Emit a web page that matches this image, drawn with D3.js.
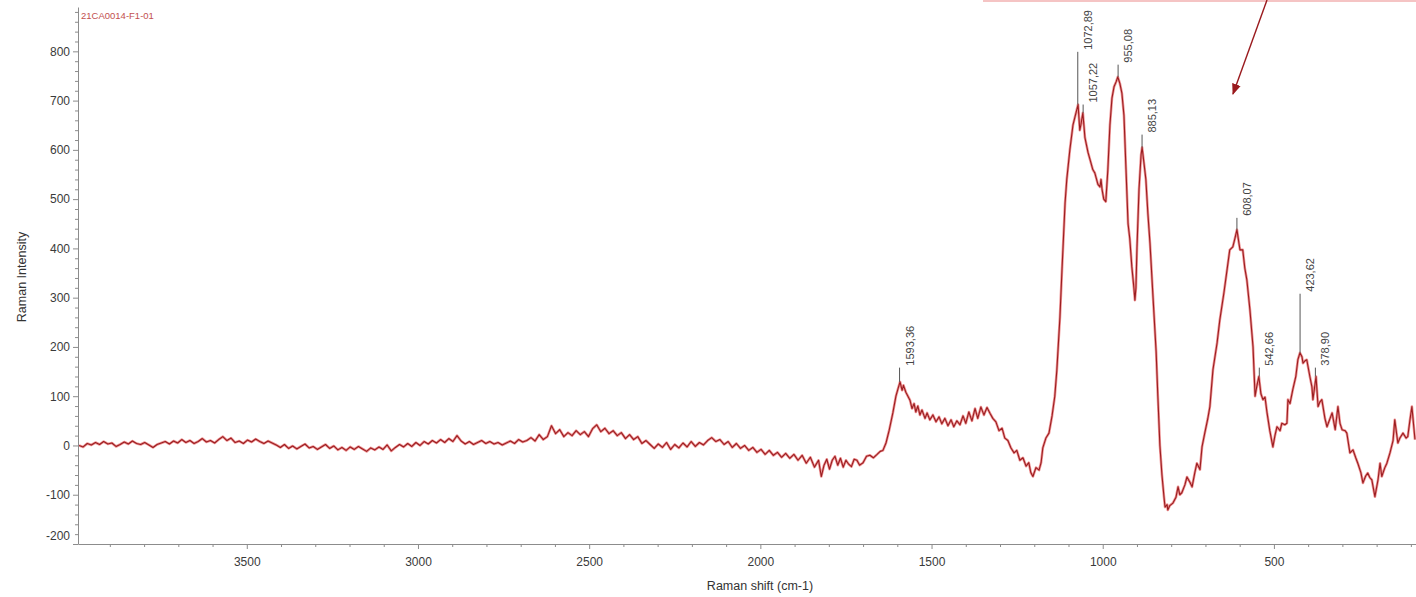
<!DOCTYPE html>
<html>
<head>
<meta charset="utf-8">
<script src="https://d3js.org/d3.v7.min.js"></script>
<style>
    body { margin: 0; background: #fff; }
    text { font-family: 'Liberation Sans', Arial, sans-serif; }
    .axis path, .axis line { stroke: #8c8c8c; }
    .axis text { fill: #3a3a3a; font-size: 12px; }
</style>
</head>
<body>
<svg id="chart" width="1416" height="597"></svg>
<script>
// spectrum: [Raman shift (cm-1), intensity]
var spectrum = [
    [3990,0],[3978,-3],[3966,4],[3954,1],[3942,6],[3930,2],[3918,8],[3906,3],[3894,5],[3882,-2],
    [3870,2],[3858,7],[3846,3],[3834,9],[3822,4],[3810,2],[3798,6],[3786,1],[3774,-4],[3762,2],
    [3750,5],[3738,8],[3726,3],[3714,9],[3702,5],[3690,12],[3678,6],[3666,10],[3654,4],[3642,8],
    [3630,14],[3618,7],[3606,10],[3594,5],[3582,12],[3570,18],[3558,10],[3546,15],[3534,6],[3522,9],
    [3510,4],[3498,11],[3486,7],[3474,13],[3462,8],[3450,4],[3438,9],[3426,5],[3414,1],[3402,-4],
    [3390,2],[3378,-6],[3366,-1],[3354,-7],[3342,-2],[3330,3],[3318,-5],[3306,-2],[3294,-8],[3282,-3],
    [3270,2],[3258,-6],[3246,-1],[3234,-9],[3222,-4],[3210,-10],[3198,-3],[3186,-8],[3174,-2],[3162,-7],
    [3150,-12],[3138,-5],[3126,-9],[3114,-3],[3102,-8],[3090,1],[3078,-11],[3066,-4],[3054,2],[3042,-3],
    [3030,4],[3018,-2],[3006,6],[2994,0],[2982,8],[2970,3],[2958,10],[2946,5],[2934,12],[2922,6],
    [2910,14],[2898,8],[2886,20],[2874,9],[2862,3],[2850,8],[2838,2],[2826,6],[2814,10],[2802,4],
    [2790,8],[2778,3],[2766,6],[2754,1],[2742,5],[2730,9],[2718,4],[2706,12],[2694,7],[2682,10],
    [2670,16],[2658,9],[2646,22],[2634,12],[2622,18],[2610,40],[2598,24],[2586,32],[2574,18],[2562,26],
    [2550,20],[2538,30],[2526,22],[2514,28],[2502,18],[2490,34],[2478,42],[2466,28],[2454,35],[2442,24],
    [2430,30],[2418,20],[2406,26],[2394,14],[2382,22],[2370,12],[2358,18],[2346,4],[2334,10],[2322,2],
    [2310,-6],[2298,3],[2286,-4],[2274,6],[2262,-8],[2250,2],[2238,-5],[2226,5],[2214,-3],[2202,8],
    [2190,-2],[2178,6],[2166,1],[2154,10],[2142,16],[2130,8],[2118,12],[2106,2],[2094,8],[2082,-4],
    [2070,4],[2058,-6],[2046,0],[2034,-10],[2022,-4],[2010,-14],[1998,-8],[1986,-18],[1974,-10],[1962,-20],
    [1950,-14],[1938,-24],[1926,-16],[1914,-26],[1902,-18],[1890,-30],[1878,-20],[1866,-36],[1854,-24],[1842,-44],
    [1830,-30],[1822,-63],[1814,-40],[1806,-28],[1798,-48],[1790,-30],[1782,-22],[1774,-40],[1766,-26],[1758,-44],
    [1750,-30],[1742,-38],[1734,-43],[1726,-28],[1718,-30],[1710,-40],[1700,-35],[1690,-22],[1680,-20],[1670,-25],
    [1659,-18],[1650,-12],[1642,-10],[1633,5],[1624,30],[1613,66],[1604,100],[1598,115],[1592,129],[1586,112],
    [1582,122],[1575,108],[1569,100],[1563,92],[1557,75],[1551,85],[1546,68],[1540,80],[1534,62],[1528,72],
    [1519,55],[1513,66],[1505,52],[1496,62],[1487,48],[1478,58],[1470,44],[1461,55],[1452,40],[1443,52],
    [1435,38],[1426,50],[1417,42],[1408,60],[1400,45],[1391,68],[1382,50],[1373,75],[1365,55],[1356,78],
    [1347,62],[1338,77],[1329,65],[1321,55],[1312,48],[1303,30],[1294,35],[1286,15],[1277,10],[1268,-5],
    [1259,-15],[1251,-10],[1242,-30],[1233,-25],[1224,-42],[1216,-35],[1210,-55],[1204,-63],[1195,-45],[1186,-50],
    [1180,-35],[1175,-5],[1166,15],[1157,25],[1148,60],[1140,100],[1134,153],[1125,260],[1119,356],[1110,492],
    [1105,540],[1096,600],[1087,650],[1081,667],[1072,692],[1067,640],[1064,650],[1058,675],[1052,625],[1043,595],
    [1037,580],[1029,560],[1023,553],[1014,530],[1008,525],[1005,540],[1002,520],[997,500],[991,495],[985,560],
    [979,650],[973,705],[967,728],[961,738],[956,748],[950,735],[944,715],[938,670],[932,560],[926,450],
    [921,420],[915,363],[909,320],[906,295],[903,320],[900,400],[894,520],[888,590],[885,605],[879,570],
    [874,540],[868,470],[862,411],[853,300],[844,190],[839,100],[833,0],[827,-60],[821,-105],[818,-125],
    [812,-120],[810,-131],[804,-122],[795,-117],[786,-105],[780,-84],[775,-100],[769,-96],[760,-80],[754,-64],
    [745,-75],[739,-84],[731,-55],[725,-36],[716,-49],[710,-3],[702,25],[693,55],[687,79],[678,154],
    [666,208],[658,255],[646,310],[637,356],[629,397],[620,403],[614,420],[608,438],[602,410],[599,397],
    [591,397],[585,360],[579,336],[570,275],[561,200],[555,100],[550,120],[544,140],[538,105],[532,93],
    [526,98],[520,66],[512,30],[503,-3],[497,20],[491,38],[482,30],[477,45],[468,42],[462,45],
    [459,93],[453,85],[445,113],[436,140],[430,174],[424,188],[418,180],[415,167],[409,172],[404,174],
    [395,140],[389,119],[386,93],[377,140],[371,79],[366,88],[360,93],[351,55],[345,38],[336,55],
    [330,66],[321,32],[313,79],[307,45],[301,32],[292,30],[287,25],[278,-15],[269,-9],[261,-25],
    [255,-36],[246,-55],[240,-76],[232,-62],[226,-56],[220,-65],[214,-70],[205,-104],[196,-70],[190,-36],
    [185,-63],[176,-45],[170,-36],[161,-15],[152,10],[147,52],[138,5],[132,15],[123,25],[114,15],
    [109,18],[103,50],[97,79],[88,12]
];

// peak annotations
var peakShifts = [1593.36, 1072.89, 1057.22, 955.08, 885.13, 608.07, 542.66, 423.62, 378.90];
var peakLabels = ["1593,36", "1072,89", "1057,22", "955,08", "885,13", "608,07", "542,66", "423,62", "378,90"];
var peakValues = [129, 692, 675, 748, 605, 438, 140, 188, 140];
var peakLabelLevels = [158, 799, 692, 773, 631, 462, 158, 308, 158];

var xTicks = [3500, 3000, 2500, 2000, 1500, 1000, 500];
var yTicks = [-200, -100, 0, 100, 200, 300, 400, 500, 600, 700, 800];
var sampleName = "21CA0014-F1-01";

var svg = d3.select('#chart');
var plotLeft = 78, plotRight = 1416, plotTop = 7, plotBottom = 544;

var x = d3.scaleLinear().domain([3993, 85]).range([plotLeft, plotRight]);
var y = d3.scaleLinear().domain([-200, 890]).range([plotBottom, plotTop]);

// minor ticks
var xMinor = d3.range(3900, 99, -100).filter(d => xTicks.indexOf(d) < 0);
var yMinor = d3.range(-200, 881, 20).filter(d => yTicks.indexOf(d) < 0);

svg.append("g").attr("class", "axis")
    .attr("transform", `translate(0,${plotBottom})`)
    .call(d3.axisBottom(x).tickValues(xMinor).tickSize(3).tickFormat(""))
    .call(g => g.select(".domain").remove());
svg.append("g").attr("class", "axis")
    .attr("transform", `translate(${plotLeft},0)`)
    .call(d3.axisLeft(y).tickValues(yMinor).tickSize(3).tickFormat(""))
    .call(g => g.select(".domain").remove());

svg.append("g").attr("class", "axis")
    .attr("transform", `translate(0,${plotBottom})`)
    .call(d3.axisBottom(x).tickValues(xTicks).tickFormat(d => String(d))
        .tickSize(5).tickSizeOuter(0).tickPadding(8));

var yAxis = svg.append("g").attr("class", "axis")
    .attr("transform", `translate(${plotLeft},0)`)
    .call(d3.axisLeft(y).tickValues(yTicks).tickFormat(d => String(d))
        .tickSize(5).tickSizeOuter(0).tickPadding(3));
// the -200 label sits above the x axis in the original
yAxis.selectAll(".tick text").filter(d => d == -200).attr("dy", "-0.4em");

// axis titles
svg.append("text")
    .attr("x", 760).attr("y", 590)
    .attr("text-anchor", "middle")
    .style("font-size", "12.5px").style("fill", "#333")
    .text("Raman shift (cm-1)");
svg.append("text")
    .attr("transform", "translate(26,277) rotate(-90)")
    .attr("text-anchor", "middle")
    .style("font-size", "12.5px").style("fill", "#333")
    .text("Raman Intensity");

svg.append("text")
    .attr("x", 81).attr("y", 19)
    .style("font-size", "9.5px").style("fill", "#c2504f")
    .text(sampleName);

// spectrum
svg.append("clipPath").attr("id", "plot")
    .append("rect").attr("x", plotLeft + 1).attr("y", plotTop)
    .attr("width", plotRight - plotLeft).attr("height", plotBottom - plotTop);

var line = d3.line().x(d => x(d[0])).y(d => y(d[1]));
var plot = svg.append("g").attr("clip-path", "url(#plot)");
plot.append("path").datum(spectrum)
    .attr("d", line)
    .style("fill", "none").style("stroke", "#e23b3d")
    .style("stroke-width", 2.6).style("stroke-opacity", 0.55)
    .style("stroke-linejoin", "round");
plot.append("path").datum(spectrum)
    .attr("d", line)
    .style("fill", "none").style("stroke", "#9a1e21")
    .style("stroke-width", 1.1)
    .style("stroke-linejoin", "round");

// peak labels
var peaks = svg.append("g");
peakShifts.forEach(function(p, i) {
    var px = x(p);
    peaks.append("line")
        .attr("x1", px).attr("x2", px)
        .attr("y1", y(peakValues[i])).attr("y2", y(peakLabelLevels[i]))
        .style("stroke", "#555").style("stroke-width", 1);
    peaks.append("text")
        .attr("transform", `translate(${px + 14},${y(peakLabelLevels[i]) - 2}) rotate(-90)`)
        .style("font-size", "11px").style("fill", "#444")
        .text(peakLabels[i]);
});

// fragment of an annotation box and arrow cut by the top edge
svg.append("line")
    .attr("x1", 983).attr("x2", 1416).attr("y1", 1).attr("y2", 1)
    .style("stroke", "#ec8a8a").style("stroke-width", 1.2);
svg.append("defs").append("marker")
    .attr("id", "head").attr("viewBox", "0 0 10 10")
    .attr("refX", 9).attr("refY", 5)
    .attr("markerWidth", 8).attr("markerHeight", 8)
    .attr("orient", "auto")
    .append("path").attr("d", "M0,1 L10,5 L0,9 Z").style("fill", "#9a1a1e");
svg.append("line")
    .attr("x1", 1267).attr("y1", 0).attr("x2", 1233).attr("y2", 94)
    .style("stroke", "#9a1a1e").style("stroke-width", 1.4)
    .attr("marker-end", "url(#head)");
</script>
</body>
</html>
